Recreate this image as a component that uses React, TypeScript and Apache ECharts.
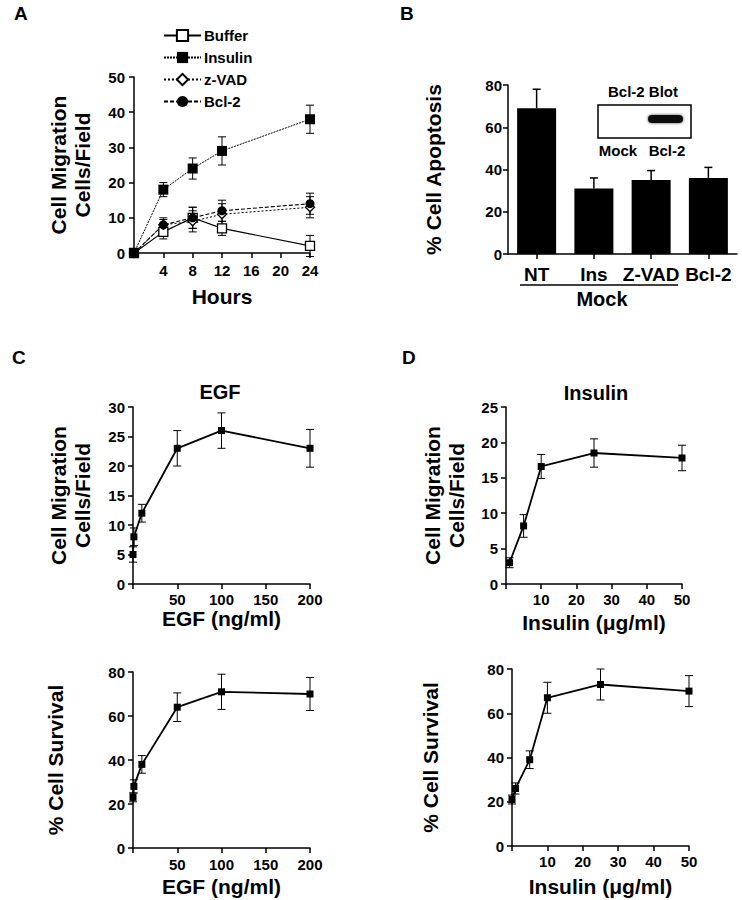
import React, { useEffect, useRef } from 'react';
import * as echarts from 'echarts';

const FONT = '"Liberation Sans", Arial, Helvetica, sans-serif';

// Panel A: migration over time
const hoursX = [0, 4, 8, 12, 24];
const bufferY = [0, 6, 10, 7, 2];
const bufferErr = [0, 2, 3, 2, 3];
const insulinY = [0, 18, 24, 29, 38];
const insulinErr = [0, 2, 3, 4, 4];
const zvadY = [0, 8, 9, 11, 13];
const zvadErr = [0, 1.5, 3, 3, 3];
const bcl2Y = [0, 8, 10, 12, 14];
const bcl2Err = [0, 2, 3, 3, 3];

// Panel B: apoptosis
const apoptosisCats = ['NT', 'Ins', 'Z-VAD', 'Bcl-2'];
const apoptosisVals = [69, 31, 35, 36];
const apoptosisErr = [9, 5, 4.5, 5];

// Panel C: EGF
const egfX = [0, 1, 10, 50, 100, 200];
const egfMigration = [5, 8, 12, 23, 26, 23];
const egfMigrationErr = [1.3, 1.5, 1.5, 3, 3, 3.2];
const egfSurvival = [23, 28, 38, 64, 71, 70];
const egfSurvivalErr = [2, 3, 4, 6.5, 8, 7.5];

// Panel D: Insulin
const insMigX = [1, 5, 10, 25, 50];
const insMigration = [3, 8.2, 16.6, 18.5, 17.8];
const insMigrationErr = [0.7, 1.6, 1.7, 2, 1.8];
const insSurvX = [0, 1, 5, 10, 25, 50];
const insSurvival = [21, 26, 39, 67, 73, 70];
const insSurvivalErr = [2, 2.5, 4, 7, 7, 7];

const axisLine = { show: true, onZero: false, lineStyle: { color: '#000', width: 1.5 } };
const axisTick = { show: true, inside: false, length: 5, lineStyle: { color: '#000', width: 1.5 } };
const labelBase = { color: '#000', fontWeight: 'bold' as const, fontSize: 15, fontFamily: FONT };
const nameStyle = { color: '#000', fontWeight: 'bold' as const, fontSize: 21, fontFamily: FONT };

function valueAxis(gridIndex: number, min: number, max: number, interval: number, extra: any = {}) {
  return {
    type: 'value',
    gridIndex,
    min,
    max,
    interval,
    axisLine,
    axisTick,
    splitLine: { show: false },
    ...extra,
    axisLabel: { ...labelBase, ...(extra.axisLabel || {}) },
    nameTextStyle: { ...nameStyle, ...(extra.nameTextStyle || {}) },
  };
}

function errorSeries(name: string, xi: number, yi: number, xs: (number | string)[], ys: number[], errs: number[], cap: number, lw: number, upperOnly = false) {
  const data: number[][] = [];
  ys.forEach((v, i) => {
    if (errs[i] > 0) {
      data.push([typeof xs[i] === 'number' ? (xs[i] as number) : i, upperOnly ? v : v - errs[i], v + errs[i]]);
    }
  });
  return {
    type: 'custom',
    name,
    xAxisIndex: xi,
    yAxisIndex: yi,
    z: 1,
    encode: { x: 0, y: [1, 2] },
    data,
    renderItem: (_params: any, api: any) => {
      const x = api.value(0);
      const lo = api.coord([x, api.value(1)]);
      const hi = api.coord([x, api.value(2)]);
      const w = cap / 2;
      const style = { stroke: '#000', lineWidth: lw };
      const children: any[] = [
        { type: 'line', shape: { x1: lo[0], y1: lo[1], x2: hi[0], y2: hi[1] }, style },
        { type: 'line', shape: { x1: hi[0] - w, y1: hi[1], x2: hi[0] + w, y2: hi[1] }, style },
      ];
      if (!upperOnly) {
        children.push({ type: 'line', shape: { x1: lo[0] - w, y1: lo[1], x2: lo[0] + w, y2: lo[1] }, style });
      }
      return { type: 'group', children };
    },
  };
}

function pairs(xs: number[], ys: number[]) {
  return ys.map((v, i) => [xs[i], v]);
}

function txt(x: number, y: number, text: string, size: number, align = 'center', extra: any = {}) {
  return {
    type: 'text',
    x,
    y,
    style: {
      text,
      fill: '#000',
      font: `bold ${size}px ${FONT}`,
      textAlign: align,
      textVerticalAlign: 'middle',
      ...extra,
    },
  };
}

export default function App() {
  const ref = useRef<HTMLDivElement>(null);

  useEffect(() => {
    document.body.style.margin = '0';
    if (!ref.current) return;
    const chart = echarts.init(ref.current, null, { renderer: 'svg' });

    const hideZero = (v: number) => (v === 0 ? '' : String(v));

    const option: any = {
      animation: false,
      backgroundColor: '#fff',
      textStyle: { fontFamily: FONT },
      grid: [
        { left: 134, top: 77, width: 176, height: 176 },
        { left: 508, top: 85, width: 229, height: 169 },
        { left: 133, top: 407, width: 177, height: 177 },
        { left: 506, top: 407, width: 176, height: 177 },
        { left: 133, top: 672, width: 177, height: 176 },
        { left: 512, top: 669, width: 177, height: 177 },
      ],
      legend: {
        orient: 'vertical',
        left: 163,
        top: 28,
        padding: 0,
        itemWidth: 37,
        itemHeight: 14,
        itemGap: 7,
        data: ['Buffer', 'Insulin', 'z-VAD', 'Bcl-2'],
        textStyle: { ...labelBase, fontSize: 15, lineHeight: 14, padding: [0, 0, 0, -2] },
      },
      xAxis: [
        valueAxis(0, 0, 24, 4, {
          name: 'Hours', nameLocation: 'middle', nameGap: 33,
          axisLabel: { margin: 10, formatter: hideZero },
        }),
        {
          type: 'category',
          gridIndex: 1,
          data: apoptosisCats,
          axisLine,
          axisTick: { ...axisTick, alignWithLabel: true },
          axisLabel: { ...labelBase, fontSize: 19, margin: 11, interval: 0 },
        },
        valueAxis(2, 0, 200, 50, {
          name: 'EGF (ng/ml)', nameLocation: 'middle', nameGap: 23,
          axisLabel: { margin: 8, formatter: hideZero },
        }),
        valueAxis(3, 0, 50, 10, {
          name: 'Insulin (\u03bcg/ml)', nameLocation: 'middle', nameGap: 28,
          axisLabel: { margin: 8, formatter: hideZero },
        }),
        valueAxis(4, 0, 200, 50, {
          name: 'EGF (ng/ml)', nameLocation: 'middle', nameGap: 28,
          axisLabel: { margin: 9, formatter: hideZero },
        }),
        valueAxis(5, 0, 50, 10, {
          name: 'Insulin (\u03bcg/ml)', nameLocation: 'middle', nameGap: 30,
          axisLabel: { margin: 8, formatter: hideZero },
        }),
      ],
      yAxis: [
        valueAxis(0, 0, 50, 10, {
          name: 'Cell Migration\nCells/Field', nameLocation: 'middle', nameGap: 40,
          nameTextStyle: { lineHeight: 24 },
          axisLabel: { margin: 9 },
        }),
        valueAxis(1, 0, 80, 20, {
          name: '% Cell Apoptosis', nameLocation: 'middle', nameGap: 64,
          nameTextStyle: { lineHeight: 22 },
          axisLabel: { margin: 6 },
        }),
        valueAxis(2, 0, 30, 5, {
          name: 'Cell Migration\nCells/Field', nameLocation: 'middle', nameGap: 39,
          nameTextStyle: { lineHeight: 24 },
          axisLabel: { margin: 8 },
        }),
        valueAxis(3, 0, 25, 5, {
          name: 'Cell Migration\nCells/Field', nameLocation: 'middle', nameGap: 38,
          nameTextStyle: { lineHeight: 24 },
          axisLabel: { margin: 8 },
        }),
        valueAxis(4, 0, 80, 20, {
          name: '% Cell Survival', nameLocation: 'middle', nameGap: 67,
          nameTextStyle: { lineHeight: 22 },
          axisLabel: { margin: 8 },
        }),
        valueAxis(5, 0, 80, 20, {
          name: '% Cell Survival', nameLocation: 'middle', nameGap: 71,
          nameTextStyle: { lineHeight: 22 },
          axisLabel: { margin: 8 },
        }),
      ],
      series: [
        // Panel A
        errorSeries('errBuffer', 0, 0, hoursX, bufferY, bufferErr, 8, 1),
        errorSeries('errInsulin', 0, 0, hoursX, insulinY, insulinErr, 8, 1),
        errorSeries('errZvad', 0, 0, hoursX, zvadY, zvadErr, 8, 1),
        errorSeries('errBcl2', 0, 0, hoursX, bcl2Y, bcl2Err, 8, 1),
        {
          type: 'line', name: 'Buffer', xAxisIndex: 0, yAxisIndex: 0, z: 3,
          data: pairs(hoursX, bufferY),
          symbol: 'rect', symbolSize: 9,
          lineStyle: { color: '#000', width: 1.2, type: 'solid' },
          itemStyle: { color: '#fff', borderColor: '#000', borderWidth: 1.3 },
        },
        {
          type: 'line', name: 'Insulin', xAxisIndex: 0, yAxisIndex: 0, z: 3,
          data: pairs(hoursX, insulinY),
          symbol: 'rect', symbolSize: 10,
          lineStyle: { color: '#000', width: 1, type: [2, 1] },
          itemStyle: { color: '#000', borderColor: '#000', borderWidth: 0 },
        },
        {
          type: 'line', name: 'z-VAD', xAxisIndex: 0, yAxisIndex: 0, z: 3,
          data: pairs(hoursX, zvadY),
          symbol: 'diamond', symbolSize: 9,
          lineStyle: { color: '#000', width: 1, type: [2, 2] },
          itemStyle: { color: '#fff', borderColor: '#000', borderWidth: 1.3 },
        },
        {
          type: 'line', name: 'Bcl-2', xAxisIndex: 0, yAxisIndex: 0, z: 3,
          data: pairs(hoursX, bcl2Y),
          symbol: 'circle', symbolSize: 9,
          lineStyle: { color: '#000', width: 1.1, type: [4, 2] },
          itemStyle: { color: '#000', borderColor: '#000', borderWidth: 0 },
        },
        // Panel B
        errorSeries('errApoptosis', 1, 1, apoptosisCats, apoptosisVals, apoptosisErr, 8, 1.5, true),
        {
          type: 'bar', name: 'Apoptosis', xAxisIndex: 1, yAxisIndex: 1, z: 3,
          data: apoptosisVals, barWidth: 39,
          itemStyle: { color: '#000' },
        },
        // Panel C top
        errorSeries('errEgfMig', 2, 2, egfX, egfMigration, egfMigrationErr, 8, 1),
        {
          type: 'line', name: 'EGF migration', xAxisIndex: 2, yAxisIndex: 2, z: 3,
          data: pairs(egfX, egfMigration),
          symbol: 'rect', symbolSize: 7,
          lineStyle: { color: '#000', width: 1.8 },
          itemStyle: { color: '#000' },
        },
        // Panel D top
        errorSeries('errInsMig', 3, 3, insMigX, insMigration, insMigrationErr, 8, 1),
        {
          type: 'line', name: 'Insulin migration', xAxisIndex: 3, yAxisIndex: 3, z: 3,
          data: pairs(insMigX, insMigration),
          symbol: 'rect', symbolSize: 7,
          lineStyle: { color: '#000', width: 1.8 },
          itemStyle: { color: '#000' },
        },
        // Panel C bottom
        errorSeries('errEgfSurv', 4, 4, egfX, egfSurvival, egfSurvivalErr, 8, 1),
        {
          type: 'line', name: 'EGF survival', xAxisIndex: 4, yAxisIndex: 4, z: 3,
          data: pairs(egfX, egfSurvival),
          symbol: 'rect', symbolSize: 7,
          lineStyle: { color: '#000', width: 1.8 },
          itemStyle: { color: '#000' },
        },
        // Panel D bottom
        errorSeries('errInsSurv', 5, 5, insSurvX, insSurvival, insSurvivalErr, 8, 1),
        {
          type: 'line', name: 'Insulin survival', xAxisIndex: 5, yAxisIndex: 5, z: 3,
          data: pairs(insSurvX, insSurvival),
          symbol: 'rect', symbolSize: 7,
          lineStyle: { color: '#000', width: 1.8 },
          itemStyle: { color: '#000' },
        },
      ],
      graphic: [
        txt(14, 13, 'A', 19, 'left'),
        txt(400, 13, 'B', 19, 'left'),
        txt(12, 357, 'C', 19, 'left'),
        txt(402, 357, 'D', 19, 'left'),
        txt(220, 392, 'EGF', 20),
        txt(596, 393, 'Insulin', 20),
        // Mock grouping
        {
          type: 'line',
          shape: { x1: 520, y1: 285, x2: 678, y2: 285 },
          style: { stroke: '#000', lineWidth: 1.3 },
        },
        txt(602, 299, 'Mock', 20),
        // Inset blot
        txt(643, 91, 'Bcl-2 Blot', 15),
        {
          type: 'rect',
          shape: { x: 598, y: 105, width: 93, height: 33 },
          style: { fill: '#fff', stroke: '#000', lineWidth: 1.5 },
        },
        {
          type: 'rect',
          shape: { x: 648, y: 115, width: 35, height: 8, r: 4 },
          style: { fill: '#111', shadowBlur: 3, shadowColor: 'rgba(0,0,0,0.7)' },
        },
        txt(618, 150, 'Mock', 15),
        txt(667, 150, 'Bcl-2', 15),
      ],
    };

    chart.setOption(option);
    return () => chart.dispose();
  }, []);

  return <div ref={ref} style={{ width: 742, height: 900 }} />;
}
